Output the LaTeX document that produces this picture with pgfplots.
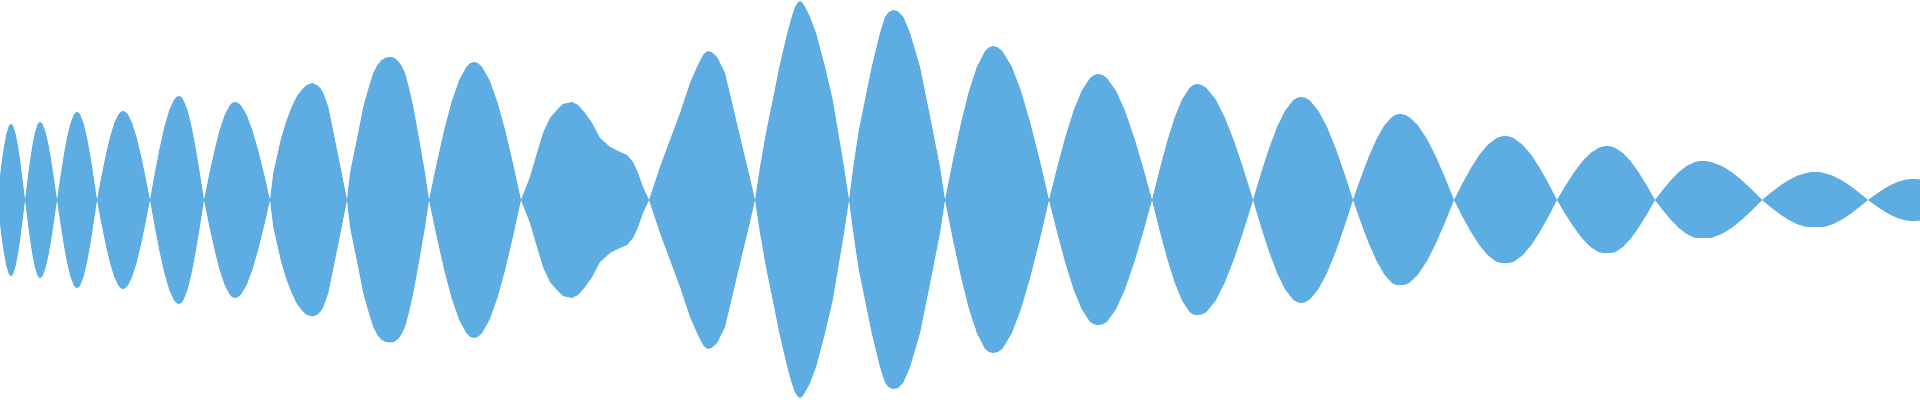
\documentclass[border=0pt]{standalone}
\usepackage{pgfplots}
\pgfplotsset{compat=1.18}
\usepackage{pgfplotstable}
\usepgfplotslibrary{fillbetween}
\definecolor{wave}{HTML}{5DADE2}

% envelope of the waveform: x in pixels, upper and lower edge
\pgfplotstableread{
x up lo
0 24 -24
1.67 38 -38
4 53.7 -53.7
6.33 65.8 -65.8
8.67 73.4 -73.4
9.83 75.3 -75.3
11 76 -76
12.17 75.3 -75.3
13.33 73.4 -73.4
15.67 65.8 -65.8
18 53.7 -53.7
20.33 38 -38
22.67 19.7 -19.7
25 0 0
27.5 20.2 -20.2
30 39 -39
32.5 55.2 -55.2
35 67.5 -67.5
37.5 75.3 -75.3
38.75 77.3 -77.3
40 78 -78
41.42 77.3 -77.3
42.83 75.3 -75.3
45.67 67.5 -67.5
48.5 55.2 -55.2
51.33 39 -39
54.17 20.2 -20.2
57 0 0
60.33 22.8 -22.8
63.67 44 -44
67 62.2 -62.2
70.33 76.2 -76.2
73.67 85 -85
75.33 87.2 -87.2
77 88 -88
78.67 87.2 -87.2
80.33 85 -85
83.67 76.2 -76.2
87 62.2 -62.2
90.33 44 -44
93.67 22.8 -22.8
97 0 0
101.33 23 -23
105.67 44.5 -44.5
110 62.9 -62.9
114.33 77.1 -77.1
118.67 86 -86
120.83 88.2 -88.2
123 89 -89
125.25 88.2 -88.2
127.5 86 -86
132 77.1 -77.1
136.5 62.9 -62.9
141 44.5 -44.5
145.5 23 -23
150 0 0
154.83 26.9 -26.9
159.67 52 -52
164.5 73.5 -73.5
169.33 90.1 -90.1
174.17 100.5 -100.5
176.58 103.1 -103.1
179 104 -104
181.08 103.1 -103.1
183.17 100.5 -100.5
187.33 90.1 -90.1
191.5 73.5 -73.5
195.67 52 -52
199.83 26.9 -26.9
204 0 0
209.17 25.4 -25.4
214.33 49 -49
219.5 69.3 -69.3
224.67 84.9 -84.9
229.83 94.7 -94.7
232.42 97.2 -97.2
235 98 -98
237.92 97.2 -97.2
240.83 94.7 -94.7
246.67 84.9 -84.9
252.5 69.3 -69.3
258.33 49 -49
264.17 25.4 -25.4
270 0 0
273.3 27 -27
280.7 60 -60
286 78 -78
291.7 93 -93
296.5 103 -103
301.7 110 -110
306 114.5 -114.5
312.3 117 -116.5
317.5 114.5 -114.5
320.5 111.5 -111.5
323.3 107 -107
328.3 93 -93
335 60 -60
341.7 27 -27
347 0 0
350 27 -27
356.7 60 -60
363.3 93 -93
368.3 111 -111
373.3 127 -127
377.5 135 -135
381.7 140 -140
386 142.5 -142
390 143 -142.5
394 142.3 -142
398 139 -139
401.5 134 -134
405 127 -127
409 112 -112
413.3 93 -93
419.3 60 -60
425 27 -27
429 0 0
436.5 35.7 -35.7
444 69 -69
451.5 97.6 -97.6
459 119.5 -119.5
466.5 133.3 -133.3
470.25 136.8 -136.8
474 138 -138
477.92 136.8 -136.8
481.83 133.3 -133.3
489.67 119.5 -119.5
497.5 97.6 -97.6
505.33 69 -69
513.17 35.7 -35.7
521 0 0
530 23 -23
537 47 -47
543 67 -67
550 82 -82
557 90 -90
563 96 -96
572 98 -98
578 95 -95
585 87 -87
592 77 -77
600 62 -62
610 53 -53
620 48 -48
627 45 -45
633 38 -38
638 27 -27
643 13 -13
649 0 0
660 33 -33
670 60 -60
680 87 -87
690 117 -117
697 133 -133
703 145 -145
705.5 147.5 -147.5
708 149 -149
712 147.5 -147.5
717 143 -143
725 127 -127
733 93 -93
742 55 -55
750 22 -22
755 0 0
760 33 -33
766 67 -67
772.7 100 -100
779.3 133 -133
787.3 167 -167
791.7 183 -183
795 193 -192.5
797.5 197 -196
800 199 -198
802.5 197 -196
805 193 -192.5
810 183 -183
816 167 -167
825 133 -133
832.7 100 -100
838.3 67 -67
844 33 -33
849 0 0
853.3 33 -33
858.3 67 -67
865 100 -100
871.7 133 -133
880 167 -167
885 183 -182.5
889 188 -187.5
893.3 190 -189
898 188.5 -188
903.3 183 -182.5
910 167 -167
920 133 -133
926.7 100 -100
933.3 67 -67
940 33 -33
945 0 0
953 39.9 -39.9
961 77 -77
969 108.9 -108.9
977 133.4 -133.4
985 148.8 -148.8
989 152.7 -152
993 154 -153
997.67 152.7 -152
1002.33 148.8 -148.8
1011.67 133.4 -133.4
1021 108.9 -108.9
1030.33 77 -77
1039.67 39.9 -39.9
1049 0 0
1057.17 32.6 -32.6
1065.33 63 -63
1073.5 89.1 -89.1
1081.67 109.1 -109.1
1089.83 121.7 -121.7
1093.92 124.9 -124.3
1098 126 -125
1102.5 124.9 -124.3
1107 121.7 -121.7
1116 109.1 -109.1
1125 89.1 -89.1
1134 63 -63
1143 32.6 -32.6
1152 0 0
1159.5 30 -30
1167 58 -58
1174.5 82 -82
1182 100.5 -100.5
1189.5 112 -112
1193.25 115 -114.5
1197 116 -115
1201.67 115 -114.5
1206.33 112 -112
1215.67 100.5 -100.5
1225 82 -82
1234.33 58 -58
1243.67 30 -30
1253 0 0
1261 26.7 -26.7
1269 51.5 -51.5
1277 72.8 -72.8
1285 89.2 -89.2
1293 99.5 -99.5
1297 102.1 -102.1
1301 103 -103
1305.33 102.1 -102.1
1309.67 99.5 -99.5
1318.33 89.2 -89.2
1327 72.8 -72.8
1335.67 51.5 -51.5
1344.33 26.7 -26.7
1353 0 0
1360.83 22.3 -22.3
1368.67 43 -43
1376.5 60.8 -60.8
1384.33 74.5 -74.5
1392.17 83.1 -83.1
1396.08 85.3 -84.8
1400 86 -85
1404.5 85.3 -84.8
1409 83.1 -83.1
1418 74.5 -74.5
1427 60.8 -60.8
1436 43 -43
1445 22.3 -22.3
1454 0 0
1462.5 16.6 -16.6
1471 32 -32
1479.5 45.3 -45.3
1488 55.4 -55.4
1496.5 61.8 -61.8
1500.75 63.4 -62.8
1505 64 -63
1509.33 63.4 -62.8
1513.67 61.8 -61.8
1522.33 55.4 -55.4
1531 45.3 -45.3
1539.67 32 -32
1548.33 16.6 -16.6
1557 0 0
1565.33 14 -14
1573.67 27 -27
1582 38.2 -38.2
1590.33 46.8 -46.8
1598.67 52.2 -52.2
1602.83 53.5 -52.8
1607 54 -53
1611 53.5 -52.8
1615 52.2 -52.2
1623 46.8 -46.8
1631 38.2 -38.2
1639 27 -27
1647 14 -14
1655 0 0
1662.83 10.1 -10.1
1670.67 19.5 -19.5
1678.5 27.6 -27.6
1686.33 33.8 -33.8
1694.17 37.7 -37.7
1698.08 38.7 -38
1702 39 -38
1707 38.7 -38
1712 37.7 -37.7
1722 33.8 -33.8
1732 27.6 -27.6
1742 19.5 -19.5
1752 10.1 -10.1
1762 0 0
1770.83 7.2 -7.2
1779.67 14 -14
1788.5 19.8 -19.8
1797.33 24.2 -24.2
1806.17 27 -27
1810.58 27.8 -27
1815 28 -27
1819.42 27.8 -27
1823.83 27 -27
1832.67 24.2 -24.2
1841.5 19.8 -19.8
1850.33 14 -14
1859.17 7.2 -7.2
1868 0 0
1875.5 5.4 -5.4
1883 10.5 -10.5
1890.5 14.8 -14.8
1898 18.2 -18.2
1905.5 20.3 -20.3
1909.25 20.8 -20.8
1913 21 -21
1920 20.5 -20.5
}\wavedata

\begin{document}
\begin{tikzpicture}
\begin{axis}[
    hide axis,
    scale only axis,
    width=19.2cm,
    height=4cm,
    xmin=0, xmax=1920,
    ymin=-200, ymax=200,
]
    \path (rel axis cs:0,0) rectangle (rel axis cs:1,1);
    \addplot[draw=none, name path=upper] table[x=x, y=up] {\wavedata};
    \addplot[draw=none, name path=lower] table[x=x, y=lo] {\wavedata};
    \addplot[wave, draw=none] fill between[of=upper and lower];
\end{axis}
\end{tikzpicture}
\end{document}
